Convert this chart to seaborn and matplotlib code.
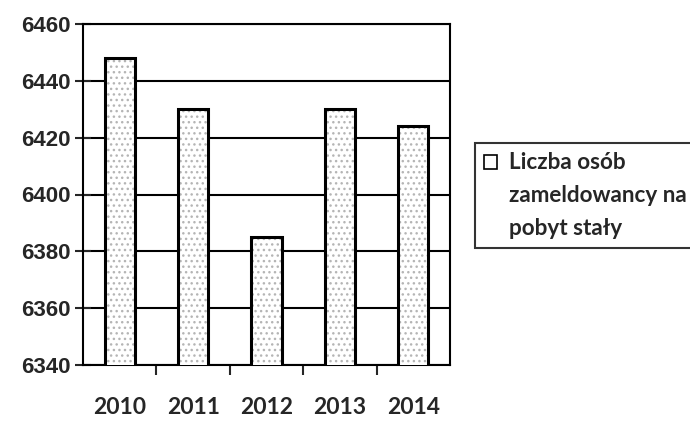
import matplotlib
matplotlib.use("Agg")
import matplotlib.pyplot as plt
from matplotlib.legend_handler import HandlerBase
import seaborn as sns
import pandas as pd
import numpy as np

years = ["2010", "2011", "2012", "2013", "2014"]
values = [6448, 6430, 6385, 6430, 6424]
label = "Liczba osób\nzameldowancy na\npobyt stały"

df = pd.DataFrame({"rok": years, "liczba": values})

sns.set_style("white")
plt.rcParams["font.family"] = ["Liberation Sans", "DejaVu Sans"]

LEG_FS = 16.2
LINE_SP = 23.5  # baseline-to-baseline distance in points


class TopSquare(HandlerBase):
    # small empty square next to the first line of a multi-line label
    def create_artists(self, legend, orig_handle, xdescent, ydescent,
                       width, height, fontsize, trans):
        size = 9.5
        top = LINE_SP + 0.72 * fontsize
        r = plt.Rectangle((-xdescent, top - size), size, size,
                          facecolor="white", edgecolor="black",
                          linewidth=1.2, transform=trans)
        return [r]


fig = plt.figure(figsize=(6.9, 4.21), dpi=100)
ax = fig.add_axes([83 / 690, 56 / 421, 367 / 690, 341 / 421])

# stippled fill
sns.barplot(data=df, x="rok", y="liczba", ax=ax, color="white", width=0.41,
            edgecolor="#b5b5b5", linewidth=0, hatch="...", zorder=3)
# black outline
sns.barplot(data=df, x="rok", y="liczba", ax=ax, fill=False, width=0.41,
            edgecolor="black", linewidth=2.2, zorder=4)

ax.set_ylim(6340, 6460)
ax.set_xlim(-0.5, 4.5)
ax.set_yticks(np.arange(6340, 6461, 20))
ax.yaxis.grid(True, color="black", linewidth=1.5, zorder=1)
ax.set_axisbelow(True)
ax.set_xlabel("")
ax.set_ylabel("")

for s in ax.spines.values():
    s.set_color("black")
    s.set_linewidth(1.5)

ax.tick_params(axis="y", direction="inout", length=12, width=1.5,
               labelsize=16, pad=3, left=True)
ax.tick_params(axis="x", length=0, labelsize=16.5, pad=23)
ax.set_xticks(np.arange(0.5, 4, 1), minor=True)
ax.tick_params(axis="x", which="minor", direction="out", length=7, width=1.5,
               bottom=True)
for t in ax.get_yticklabels():
    t.set_fontweight("bold")
for t in ax.get_xticklabels():
    t.set_fontweight("bold")
    t.set_family(["Lato", "DejaVu Sans"])

handle = plt.Rectangle((0, 0), 1, 1)
leg = fig.legend([handle], [label], loc="upper left",
                 bbox_to_anchor=(475 / 690, 1 - 143 / 421),
                 frameon=True, fancybox=False, edgecolor="black",
                 handlelength=0.65, handleheight=0.7, handletextpad=0.45,
                 borderpad=0.4, borderaxespad=0,
                 handler_map={plt.Rectangle: TopSquare()},
                 prop={"family": ["Lato", "DejaVu Sans"], "weight": "bold",
                       "size": LEG_FS})
leg.get_frame().set_linewidth(1.5)
for t in leg.get_texts():
    t.set_linespacing(1.72)

fig.savefig("out.png", dpi=100)
